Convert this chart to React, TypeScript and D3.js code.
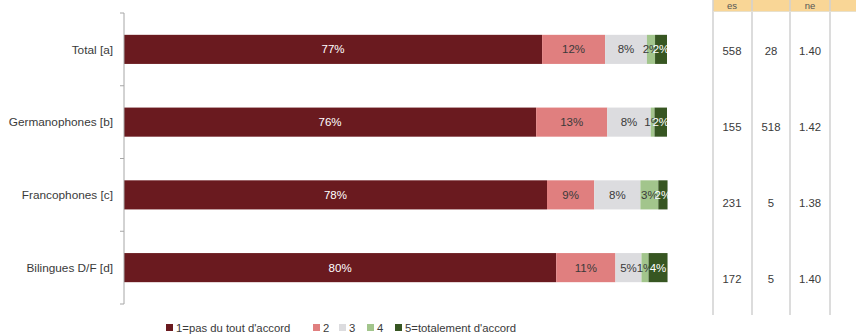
import React from "react";
import * as d3 from "d3";

const categories = ["Total [a]", "Germanophones [b]", "Francophones [c]", "Bilingues D/F [d]"];
const seriesNames = ["1=pas du tout d'accord", "2", "3", "4", "5=totalement d'accord"];
const s1 = [77.0, 75.9, 77.9, 79.6];
const s2 = [11.6, 13.1, 8.7, 10.9];
const s3 = [7.7, 8.0, 8.5, 4.8];
const s4 = [1.5, 0.7, 3.3, 1.3];
const s5 = [2.2, 2.3, 1.7, 3.5];
const labels1 = ["77%", "76%", "78%", "80%"];
const labels2 = ["12%", "13%", "9%", "11%"];
const labels3 = ["8%", "8%", "8%", "5%"];
const labels4 = ["2%", "1%", "3%", "1%"];
const labels5 = ["2%", "2%", "2%", "4%"];
const tableHeaders = ["es", "", "ne", ""];
const colEs = ["558", "155", "231", "172"];
const colN = ["28", "518", "5", "5"];
const colNe = ["1.40", "1.42", "1.38", "1.40"];

const colors = ["#6a1a1f", "#e07f7f", "#dcdcdf", "#a2c58c", "#375622"];
const textColors = ["#ffffff", "#3a3a3a", "#3a3a3a", "#3a3a3a", "#ffffff"];
const FONT = "'Liberation Sans', Arial, sans-serif";

export default function App() {
  const W = 856, H = 336;
  const series = [s1, s2, s3, s4, s5];
  const labels = [labels1, labels2, labels3, labels4, labels5];
  const data = categories.map((c, i) => {
    const o: any = { cat: c };
    series.forEach((s, k) => (o["k" + k] = s[i]));
    return o;
  });
  const keys = series.map((_, k) => "k" + k);
  const stacked = d3.stack().keys(keys)(data as any);

  const x = d3.scaleLinear().domain([0, 100]).range([124, 667]);
  const y = d3.scaleBand().domain(categories).range([13, 304]).paddingInner(0.6).paddingOuter(0.3);
  const tickYs = d3.range(categories.length + 1).map((i) => 13 + i * (291 / categories.length));

  // table
  const colX = [713, 752, 790, 830];
  const colCenters = [732, 771, 810, 843];
  const rowY = d3.scaleLinear().domain([0, 3]).range([51, 279]);
  const tableCols = [colEs, colN, colNe];

  const legendX = [166, 313, 339, 367, 395];

  return (
    <svg width={W} height={H} style={{ position: "absolute", left: 0, top: 0 }} fontFamily={FONT}>
      <rect width={W} height={H} fill="#ffffff" />
      {/* bars */}
      {stacked.map((layer, k) => (
        <g key={k}>
          {layer.map((d, i) => (
            <g key={i}>
              <rect
                x={x(d[0])}
                width={x(d[1]) - x(d[0])}
                y={y(categories[i])!}
                height={y.bandwidth()}
                fill={colors[k]}
              />
              <text
                x={(x(d[0]) + x(d[1])) / 2}
                y={y(categories[i])! + y.bandwidth() / 2}
                dy="0.35em"
                textAnchor="middle"
                fontSize={11.5}
                fill={textColors[k]}
              >
                {labels[k][i]}
              </text>
            </g>
          ))}
        </g>
      ))}
      {/* axis */}
      <line x1={124} x2={124} y1={13} y2={304} stroke="#a6a6a6" strokeWidth={1} />
      {tickYs.map((t, i) => (
        <line key={i} x1={120} x2={124} y1={t} y2={t} stroke="#a6a6a6" strokeWidth={1} />
      ))}
      {categories.map((c) => (
        <text key={c} x={113} y={y(c)! + y.bandwidth() / 2} dy="0.35em" textAnchor="end" fontSize={11.8} fill="#3a3a3a">
          {c}
        </text>
      ))}
      {/* table */}
      <rect x={713} y={0} width={W - 713} height={11} fill="#f9d696" />
      {colX.map((cx, i) => (
        <line key={i} x1={cx} x2={cx} y1={0} y2={315} stroke="#d0d0d0" strokeWidth={1.5} />
      ))}
      <line x1={713} x2={W} y1={11.5} y2={11.5} stroke="#e8e0cc" strokeWidth={1} />
      {tableHeaders.map((h, i) => (
        <text key={i} x={colCenters[i]} y={6} dy="0.35em" textAnchor="middle" fontSize={9.5} fill="#555">
          {h}
        </text>
      ))}
      {tableCols.map((col, ci) =>
        col.map((v, ri) => (
          <text key={ci + "-" + ri} x={colCenters[ci]} y={rowY(ri)} dy="0.35em" textAnchor="middle" fontSize={11.3} fill="#3a3a3a">
            {v}
          </text>
        ))
      )}
      {/* legend */}
      {seriesNames.map((n, i) => (
        <g key={n}>
          <rect x={legendX[i]} y={324} width={7} height={7} fill={colors[i]} />
          <text x={legendX[i] + 10} y={328} dy="0.35em" fontSize={11.3} fill="#3a3a3a">
            {n}
          </text>
        </g>
      ))}
    </svg>
  );
}
